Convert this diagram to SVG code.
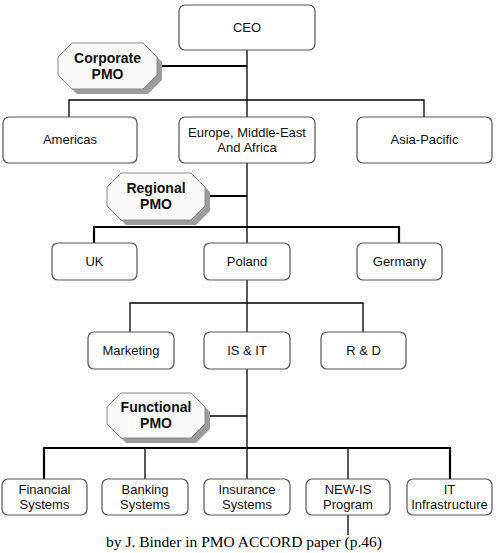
<svg xmlns="http://www.w3.org/2000/svg" width="497" height="553" viewBox="0 0 497 553">
<style>
.box{fill:#fff;stroke:#555;stroke-width:1.2}
.t{font-family:"Liberation Sans",Arial,sans-serif;font-size:13px;fill:#111;text-anchor:middle}
.p{font-family:"Liberation Sans",Arial,sans-serif;font-size:14px;font-weight:bold;fill:#111;text-anchor:middle}
.oct{fill:#fafafa;stroke:#888;stroke-width:1}
.sh{fill:#9c9c9c}
.thin{stroke:#000;stroke-width:1.3;fill:none}
.thick{stroke:#000;stroke-width:2.2;fill:none}
.cap{font-family:"Liberation Serif","Times New Roman",serif;font-size:15.5px;fill:#000;text-anchor:middle}
</style>
<g id="connectors">
<line class="thin" x1="247" y1="50" x2="247" y2="117"/>
<line class="thick" x1="157" y1="66" x2="247" y2="66"/>
<polyline class="thin" points="69,117 69,100 424,100 424,117"/>
<line class="thin" x1="247" y1="163" x2="247" y2="243"/>
<line class="thick" x1="205" y1="196" x2="247" y2="196"/>
<polyline class="thick" points="94,243 94,227 399,227 399,243"/>
<line class="thin" x1="247" y1="280" x2="247" y2="332"/>
<polyline class="thin" points="130,332 130,303 363,303 363,332"/>
<line class="thin" x1="247" y1="369" x2="247" y2="479"/>
<line class="thin" x1="205" y1="416" x2="247" y2="416"/>
<polyline class="thick" points="44,479 44,448 450,448 450,479"/>
<line class="thin" x1="145" y1="448" x2="145" y2="479"/>
<line class="thin" x1="348" y1="448" x2="348" y2="479"/>
<line class="thin" x1="348" y1="515" x2="348" y2="535"/>
</g>
<g id="ceo"><rect class="box" x="179" y="5" width="136" height="45" rx="6"/><text class="t" x="247" y="32">CEO</text></g>
<g id="corporate-pmo">
<polygon class="sh" points="77,48 148,48 162,62 162,80 148,94 77,94 63,80 63,62"/>
<polygon class="oct" points="72,43 143,43 157,57 157,75 143,89 72,89 58,75 58,57"/>
<text class="p" x="107.5" y="63">Corporate</text><text class="p" x="107.5" y="79">PMO</text>
</g>
<g id="americas"><rect class="box" x="3" y="117" width="134" height="46" rx="6"/><text class="t" x="70" y="144">Americas</text></g>
<g id="emea"><rect class="box" x="179" y="117" width="136" height="46" rx="6"/><text class="t" x="247" y="137">Europe, Middle-East</text><text class="t" x="247" y="152">And Africa</text></g>
<g id="asia"><rect class="box" x="357" y="117" width="135" height="46" rx="6"/><text class="t" x="424.5" y="144">Asia-Pacific</text></g>
<g id="regional-pmo">
<polygon class="sh" points="126,178 196,178 210,192 210,211 196,225 126,225 112,211 112,192"/>
<polygon class="oct" points="121,173 191,173 205,187 205,206 191,220 121,220 107,206 107,187"/>
<text class="p" x="156" y="193">Regional</text><text class="p" x="156" y="209">PMO</text>
</g>
<g id="uk"><rect class="box" x="52" y="243" width="85" height="37" rx="6"/><text class="t" x="94.5" y="266">UK</text></g>
<g id="poland"><rect class="box" x="204" y="243" width="86" height="37" rx="6"/><text class="t" x="247" y="266">Poland</text></g>
<g id="germany"><rect class="box" x="357" y="243" width="85" height="37" rx="6"/><text class="t" x="399.5" y="266">Germany</text></g>
<g id="marketing"><rect class="box" x="88" y="332" width="86" height="37" rx="6"/><text class="t" x="131" y="355">Marketing</text></g>
<g id="isit"><rect class="box" x="204" y="332" width="86" height="37" rx="6"/><text class="t" x="247" y="355">IS &amp; IT</text></g>
<g id="rd"><rect class="box" x="321" y="332" width="85" height="37" rx="6"/><text class="t" x="363.5" y="355">R &amp; D</text></g>
<g id="functional-pmo">
<polygon class="sh" points="126,398 196,398 210,412 210,429 196,443 126,443 112,429 112,412"/>
<polygon class="oct" points="121,393 191,393 205,407 205,424 191,438 121,438 107,424 107,407"/>
<text class="p" x="156" y="412">Functional</text><text class="p" x="156" y="428">PMO</text>
</g>
<g id="financial"><rect class="box" x="2" y="479" width="85" height="36" rx="6"/><text class="t" x="44.5" y="494">Financial</text><text class="t" x="44.5" y="509">Systems</text></g>
<g id="banking"><rect class="box" x="102" y="479" width="86" height="36" rx="6"/><text class="t" x="145" y="494">Banking</text><text class="t" x="145" y="509">Systems</text></g>
<g id="insurance"><rect class="box" x="204" y="479" width="86" height="36" rx="6"/><text class="t" x="247" y="494">Insurance</text><text class="t" x="247" y="509">Systems</text></g>
<g id="newis"><rect class="box" x="306" y="479" width="84" height="36" rx="6"/><text class="t" x="348" y="494">NEW-IS</text><text class="t" x="348" y="509">Program</text></g>
<g id="itinfra"><rect class="box" x="407" y="479" width="85" height="36" rx="6"/><text class="t" x="449.5" y="494">IT</text><text class="t" x="449.5" y="509">Infrastructure</text></g>
<text class="cap" x="244" y="547">by J. Binder in PMO ACCORD paper (p.46)</text>
</svg>
